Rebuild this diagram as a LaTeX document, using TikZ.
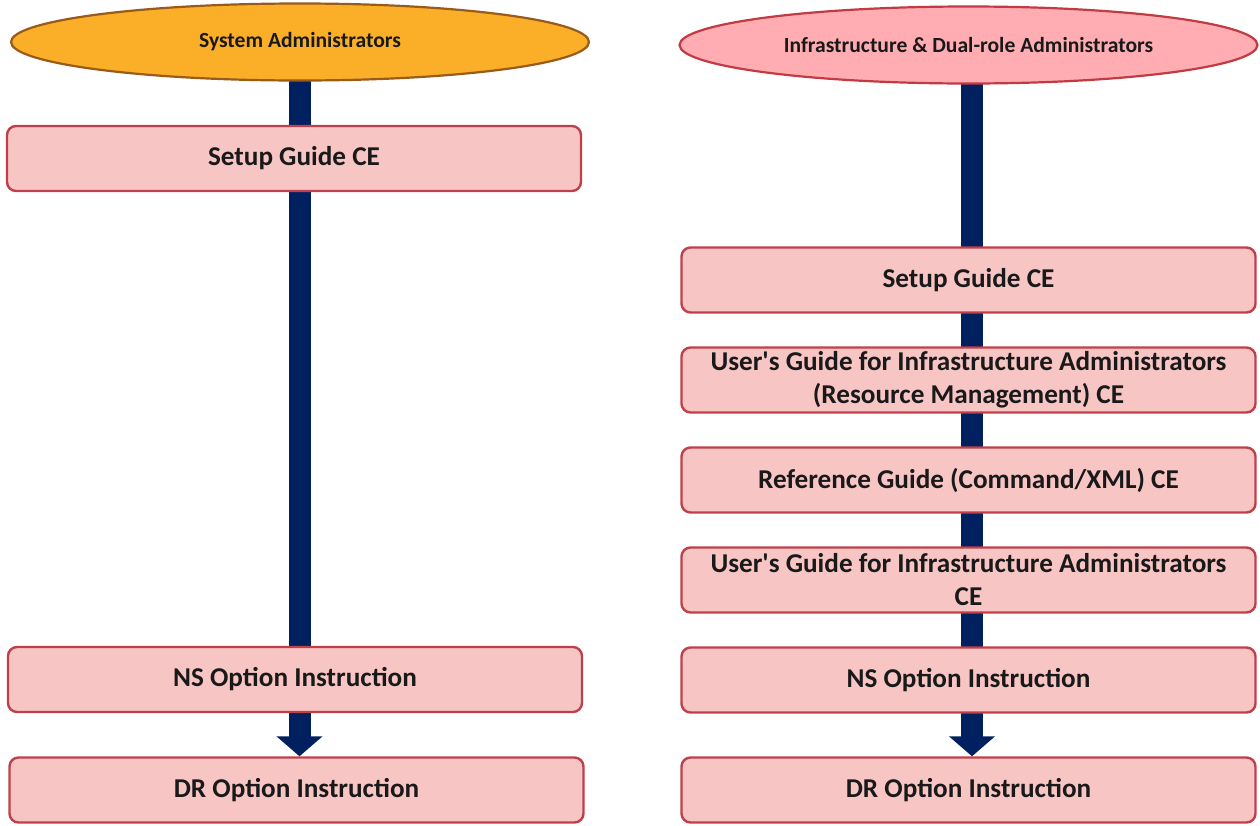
\documentclass[tikz,border=0pt]{standalone}
\usepackage{fontspec}
\setmainfont{Carlito}[Ligatures=TeXOff]
\usetikzlibrary{arrows.meta,shapes.geometric,backgrounds}
\definecolor{boxfill}{HTML}{F8C5C5}
\definecolor{boxline}{HTML}{C0404A}
\definecolor{orfill}{HTML}{FBAE27}
\definecolor{orline}{HTML}{9A5A18}
\definecolor{pkfill}{HTML}{FFADB2}
\definecolor{pkline}{HTML}{C23A42}
\definecolor{navy}{HTML}{002060}
\tikzset{
  doc/.style={draw=boxline, fill=boxfill, line width=2.4pt, rounded corners=9pt,
    minimum width=574pt, minimum height=65pt, inner sep=0pt, align=center,
    font=\fontsize{27.2}{33}\selectfont\bfseries, text=black!90},
  role/.style={ellipse, line width=2.2pt, minimum width=578pt, minimum height=77pt,
    inner sep=0pt, font=\fontsize{21.6}{25}\selectfont\bfseries, text=black!90},
  flow/.style={draw=navy, line width=22pt, -{Triangle[width=45pt,length=20pt]}}
}
\begin{document}
\begin{tikzpicture}[x=1pt,y=-1pt]
\useasboundingbox (0,0) rectangle (1260,825);
% left column
\node[role, draw=orline, fill=orfill] (e1) at (300,42) {System Administrators};
\node[doc] (l1) at (294,158.5) {Setup Guide CE};
\node[doc] (l2) at (295,679.5) {NS Option Instruction};
\node[doc] (l3) at (296.5,790) {DR Option Instruction};
% right column
\node[role, draw=pkline, fill=pkfill] (e2) at (968.5,45) {Infrastructure \& Dual-role Administrators};
\node[doc] (r1) at (968.5,280) {Setup Guide CE};
\node[doc] (r2) at (968.5,380) {User's Guide for Infrastructure Administrators\\(Resource Management) CE};
\node[doc] (r3) at (968.5,480) {Reference Guide (Command/XML) CE};
\node[doc] (r4) at (968.5,580) {User's Guide for Infrastructure Administrators\\CE};
\node[doc] (r5) at (968.5,680) {NS Option Instruction};
\node[doc] (r6) at (968.5,790) {DR Option Instruction};
\begin{scope}[on background layer]
\draw[flow] (e1.center -| 299.5,0) -- (l3.north -| 299.5,0);
\draw[flow] (e2.center -| 972,0) -- (r6.north -| 972,0);
\end{scope}
\end{tikzpicture}
\end{document}
